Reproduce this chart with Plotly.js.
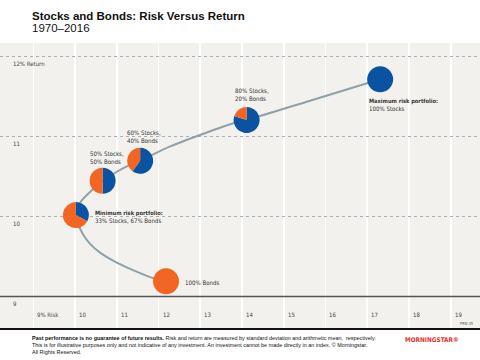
<!DOCTYPE html>
<html>
<head>
<meta charset="utf-8">
<script src="https://cdn.plot.ly/plotly-3.0.1.min.js"></script>
<style>html,body{margin:0;padding:0;background:#fff;}#chart{width:480px;height:360px;}</style>
</head>
<body>
<div id="chart"></div>
<script>
// ---- data ----
const portfolioNames = ['100% Bonds', '33% Stocks, 67% Bonds', '50% Stocks, 50% Bonds', '60% Stocks, 40% Bonds', '80% Stocks, 20% Bonds', '100% Stocks'];
const stockPct = [0, 33, 50, 60, 80, 100];
const bondPct = [100, 67, 50, 40, 20, 0];
const riskPct = [12.18, 10.02, 10.66, 11.56, 14.11, 17.31];
const returnPct = [9.19, 10.02, 10.45, 10.70, 11.21, 11.72];

// efficient frontier curve
const frontierRisk = [12.18, 11.87, 11.39, 10.91, 10.60, 10.36, 10.19, 10.08, 10.02, 10.05, 10.14, 10.40, 10.66, 10.96, 11.24, 11.56, 12.28, 13.79, 14.11, 15.55, 17.31];
const frontierReturn = [9.19, 9.23, 9.33, 9.45, 9.55, 9.66, 9.78, 9.90, 10.02, 10.09, 10.19, 10.33, 10.45, 10.55, 10.63, 10.70, 10.88, 11.17, 11.21, 11.44, 11.72];

const xTickVals = [9, 10, 11, 12, 13, 14, 15, 16, 17, 18, 19];
const xTickText = ['9% Risk', '10', '11', '12', '13', '14', '15', '16', '17', '18', '19'];
const yTickVals = [9, 10, 11, 12];
const yTickText = ['9', '10', '11', '12% Return'];

const pointLabels = [
  '100% Bonds',
  '<span style="font-size:5.7px"><b>Minimum risk portfolio:</b></span><br>33% Stocks, 67% Bonds',
  '50% Stocks,<br>50% Bonds',
  '60% Stocks,<br>40% Bonds',
  '80% Stocks,<br>20% Bonds',
  '<span style="font-size:5.7px"><b>Maximum risk portfolio:</b></span><br>100% Stocks'
];

// ---- layout / style ----
const W = 480, H = 360;
const M = {l: 0, r: 0, t: 43, b: 31};
const plotW = W - M.l - M.r, plotH = H - M.t - M.b;
const xRange = [8.202, 19.702];
const yRange = [8.593, 12.175];
const BLUE = '#0a53a3', ORANGE = '#f26522';
const NARROW = '"Liberation Sans Narrow", "Arial Narrow", "DejaVu Sans Condensed", sans-serif';
const SANS = '"Liberation Sans", Arial, sans-serif';
const pieR = 13;
const labelOffsets = [
  {xanchor: 'left', yanchor: 'middle', xshift: 16.5, yshift: -1.5},
  {xanchor: 'left', yanchor: 'middle', xshift: 17.5, yshift: -1.5},
  {xanchor: 'left', yanchor: 'bottom', xshift: -14.5, yshift: 14},
  {xanchor: 'left', yanchor: 'bottom', xshift: -15, yshift: 15},
  {xanchor: 'left', yanchor: 'bottom', xshift: -13.5, yshift: 16.5},
  {xanchor: 'left', yanchor: 'top', xshift: -13.5, yshift: -16.5}
];

function toPaperX(v) { return (v - xRange[0]) / (xRange[1] - xRange[0]); }
function toPaperY(v) { return (v - yRange[0]) / (yRange[1] - yRange[0]); }

const traces = [{
  type: 'scatter', mode: 'lines',
  x: frontierRisk, y: frontierReturn,
  line: {color: '#8ea1a9', width: 2, shape: 'spline', smoothing: 0.7},
  hoverinfo: 'skip', showlegend: false
}];

portfolioNames.forEach((name, i) => {
  const cx = toPaperX(riskPct[i]), cy = toPaperY(returnPct[i]);
  const dx = pieR / plotW, dy = pieR / plotH;
  traces.push({
    type: 'pie', name: name,
    values: [stockPct[i], bondPct[i]], labels: ['Stocks', 'Bonds'],
    marker: {colors: [BLUE, ORANGE], line: {width: 0}},
    sort: false, direction: 'clockwise', rotation: 0,
    textinfo: 'none', hoverinfo: 'label+percent', showlegend: false,
    domain: {x: [cx - dx, cx + dx], y: [cy - dy, cy + dy]}
  });
});

const annotations = [];
xTickVals.forEach((v, i) => annotations.push({
  x: v, y: 0, xref: 'x', yref: 'paper', text: xTickText[i], showarrow: false,
  xanchor: 'left', yanchor: 'middle', xshift: 2, yshift: 14.5,
  font: {family: NARROW, size: 6, color: '#444'}
}));
yTickVals.forEach((v, i) => annotations.push({
  x: 11 / W, y: v, xref: 'paper', yref: 'y', text: yTickText[i], showarrow: false,
  xanchor: 'left', yanchor: 'middle', yshift: -7,
  font: {family: NARROW, size: 6, color: '#444'}
}));
pointLabels.forEach((t, i) => annotations.push(Object.assign({
  x: riskPct[i], y: returnPct[i], xref: 'x', yref: 'y', text: t, showarrow: false, align: 'left',
  font: {family: NARROW, size: 6.1, color: '#333'}
}, labelOffsets[i])));

annotations.push({
  x: 30 / W, y: 1, xref: 'paper', yref: 'paper', text: '1970–2016', showarrow: false,
  xanchor: 'left', yanchor: 'middle', yshift: M.t - 28,
  font: {family: SANS, size: 11.5, color: '#111'}
});
annotations.push({
  x: 30 / W, y: 0, xref: 'paper', yref: 'paper', showarrow: false, align: 'left',
  xanchor: 'left', yanchor: 'top', yshift: -3.5,
  text: '<b>Past performance is no guarantee of future results.</b> Risk and return are measured by standard deviation and arithmetic mean,  respectively.<br>This is for illustrative purposes only and not indicative of any investment. An investment cannot be made directly in an index. © Morningstar.<br>All Rights Reserved.',
  font: {family: SANS, size: 5.45, color: '#111'}
});
annotations.push({
  x: 403 / W, y: 0, xref: 'paper', yref: 'paper', showarrow: false,
  xanchor: 'left', yanchor: 'middle', yshift: -11,
  text: '<b>MORNINGSTAR®</b>',
  font: {family: NARROW, size: 6.4, color: '#e4322b'}
});
annotations.push({
  x: 1, y: 0, xref: 'paper', yref: 'paper', showarrow: false,
  xanchor: 'right', yanchor: 'middle', xshift: -5, yshift: 5.5,
  text: 'PRN 35', font: {family: NARROW, size: 4, color: '#555'}
});

const layout = {
  width: W, height: H,
  margin: M,
  paper_bgcolor: '#ffffff',
  plot_bgcolor: '#f3f1ed',
  showlegend: false,
  title: {
    text: '<b>Stocks and Bonds: Risk Versus Return</b>',
    x: 32 / W, xanchor: 'left', y: 1 - 15.5 / H, yanchor: 'middle',
    font: {family: SANS, size: 11.5, color: '#111'}
  },
  xaxis: {
    range: xRange, tickvals: xTickVals, showticklabels: false, ticks: '',
    showgrid: true, gridcolor: '#ffffff', gridwidth: 1.6, zeroline: false, showline: false, fixedrange: true
  },
  yaxis: {
    range: yRange, tickvals: [10, 11, 12], showticklabels: false, ticks: '',
    showgrid: true, gridcolor: '#9fb2bb', gridwidth: 1, griddash: 'dot', zeroline: false, showline: false, fixedrange: true
  },
  shapes: [
    {type: 'line', xref: 'paper', yref: 'y', x0: 0, x1: 1, y0: 9, y1: 9, line: {color: '#555555', width: 1.5}, layer: 'above'},
    {type: 'line', xref: 'paper', yref: 'paper', x0: 0, x1: 1, y0: 0, y1: 0, line: {color: '#111111', width: 2}, layer: 'above'}
  ],
  annotations: annotations
};

Plotly.newPlot('chart', traces, layout, {staticPlot: true, displayModeBar: false});
</script>
</body>
</html>
